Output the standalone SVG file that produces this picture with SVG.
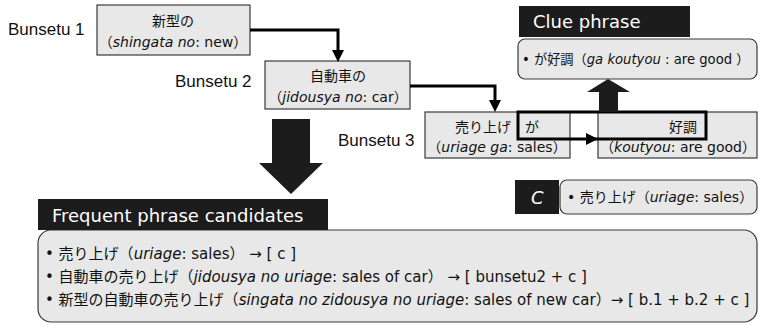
<svg xmlns="http://www.w3.org/2000/svg" width="759" height="327" viewBox="0 0 759 327">
<defs>
<style>
.box{fill:#e8e8e8;stroke:#3a3a3a;stroke-width:1.2}
.lbl{fill:#1c1c1c}
.t{font-family:"DejaVu Sans","Noto Sans CJK JP",sans-serif;font-size:14px;fill:#111}
.f{font-size:15px}
.s{font-size:13.2px}
.bn{font-family:"Liberation Sans",Arial,sans-serif;font-size:17px;fill:#111}
.w{font-family:"DejaVu Sans","Noto Sans CJK JP",sans-serif;fill:#fff}
.c{stroke:#000;stroke-width:3;fill:none}
.bold{stroke:#000;stroke-width:3;fill:none}
</style>
<marker id="ah" markerUnits="userSpaceOnUse" markerWidth="12" markerHeight="12" refX="0" refY="6" orient="auto">
<path d="M0,0 L12,6 L0,12 z" fill="#000"/>
</marker>
</defs>

<g id="bunsetu1">
<text class="bn" x="8" y="35">Bunsetu 1</text>
<rect class="box" x="97" y="5" width="153" height="50"/>
<text class="t" x="173" y="26" text-anchor="middle">新型の</text>
<text class="t" x="173" y="47" text-anchor="middle">（<tspan font-style="italic">shingata no</tspan>: new）</text>
</g>

<g id="bunsetu2">
<text class="bn" x="175" y="87">Bunsetu 2</text>
<rect class="box" x="265" y="61" width="145" height="48"/>
<text class="t" x="338" y="81" text-anchor="middle">自動車の</text>
<text class="t" x="338" y="102" text-anchor="middle">（<tspan font-style="italic">jidousya no</tspan>: car）</text>
</g>

<g id="bunsetu3">
<text class="bn" x="338" y="146">Bunsetu 3</text>
<rect class="box" x="425" y="112" width="145" height="46"/>
<text class="t" x="455" y="132">売り上げ</text>
<text class="t" x="525" y="132">が</text>
<text class="t" x="497" y="152" text-anchor="middle">（<tspan font-style="italic">uriage ga</tspan>: sales）</text>
</g>

<g id="koutyou">
<rect class="box" x="598" y="112" width="159" height="46"/>
<text class="t" x="683" y="132" text-anchor="middle">好調</text>
<text class="t" x="678" y="152" text-anchor="middle">（<tspan font-style="italic">koutyou</tspan>: are good）</text>
</g>

<g id="clue">
<rect class="lbl" x="519" y="6" width="171" height="31"/>
<text class="w" x="533" y="28" font-size="18">Clue phrase</text>
<rect class="box" x="518" y="39" width="239" height="40" rx="7"/>
<text class="t s" x="522" y="64">• が好調（<tspan font-style="italic">ga koutyou</tspan> : are good ）</text>
</g>

<g id="c-phrase">
<rect class="lbl" x="515" y="180" width="44" height="34"/>
<text class="w" x="531" y="204" font-size="18" font-style="italic">C</text>
<rect class="box" x="560" y="180" width="197" height="34" rx="7"/>
<text class="t" x="567" y="202">• 売り上げ（<tspan font-style="italic">uriage</tspan>: sales）</text>
</g>

<g id="frequent">
<rect class="box" x="38" y="230" width="719" height="92" rx="13"/>
<rect class="lbl" x="38" y="199" width="290" height="31"/>
<text class="w" x="52" y="222" font-size="18">Frequent phrase candidates</text>
<text class="t f" x="45" y="259">• 売り上げ（<tspan font-style="italic">uriage</tspan>: sales） → [ c ]</text>
<text class="t f" x="45" y="282">• 自動車の売り上げ（<tspan font-style="italic">jidousya no uriage</tspan>: sales of car） → [ bunsetu2 + c ]</text>
<text class="t f" x="45" y="305">• 新型の自動車の売り上げ（<tspan font-style="italic">singata no zidousya no uriage</tspan>: sales of new car）→ [ b.1 + b.2 + c ]</text>
</g>

<g id="connectors">
<path class="c" d="M250,30 H338 V50" marker-end="url(#ah)"/>
<path class="c" d="M410,86 H495 V100" marker-end="url(#ah)"/>
<rect class="bold" x="518" y="112" width="188" height="27"/>
<path d="M586,133 L598,139 L586,145 z" fill="#000"/>
<polygon fill="#1c1c1c" points="272,119 310,119 310,163 323,163 291,194 259,163 272,163"/>
<polygon fill="#1c1c1c" points="599,112 618,112 618,92 630,92 608,79 587,92 599,92"/>
</g>
</svg>
